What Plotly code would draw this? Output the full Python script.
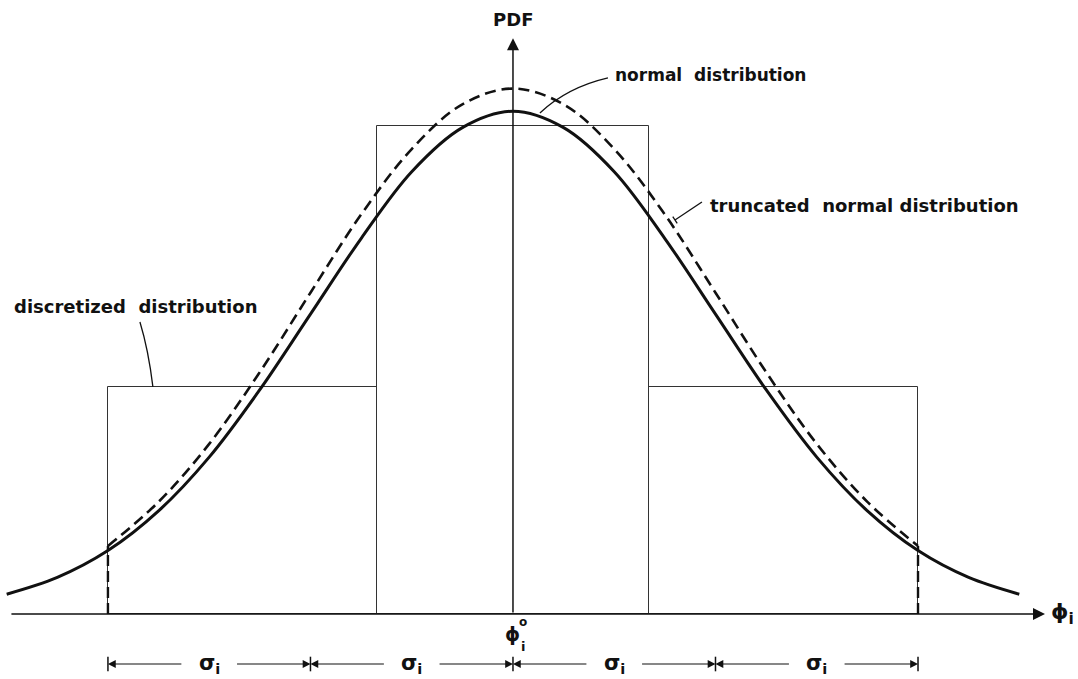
import plotly.graph_objects as go

# ---------------- data (x in units of sigma_i, y in PDF units) ----------------
normal_x = [-2.5, -2.25, -2.0, -1.75, -1.5, -1.25, -1.0, -0.75, -0.5, -0.25, 0.0,
            0.25, 0.5, 0.75, 1.0, 1.25, 1.5, 1.75, 2.0, 2.25, 2.5]
normal_y = [0.0157, 0.0290, 0.0503, 0.0818, 0.1245, 0.1780, 0.2380, 0.2980, 0.3510, 0.3860, 0.3990,
            0.3860, 0.3510, 0.2980, 0.2380, 0.1780, 0.1245, 0.0818, 0.0503, 0.0290, 0.0157]

trunc_x = [-2.0, -1.75, -1.5, -1.25, -1.0, -0.75, -0.5, -0.25, 0.0,
           0.25, 0.5, 0.75, 1.0, 1.25, 1.5, 1.75, 2.0]
trunc_y = [0.0540, 0.0890, 0.1350, 0.1920, 0.2550, 0.3170, 0.3690, 0.4045, 0.4170,
           0.4045, 0.3690, 0.3170, 0.2550, 0.1920, 0.1350, 0.0890, 0.0540]

disc_edges = [-2.0, -0.672, 0.672, 2.0]
disc_heights = [0.180, 0.387, 0.180]

sigma_ticks = [-2.0, -1.0, 0.0, 1.0, 2.0]
sigma_label = "σ<sub>i</sub>"

FONT = "DejaVu Sans"
BLACK = "#111111"

fig = go.Figure()

# discretized distribution (bars)
centers = [(disc_edges[i] + disc_edges[i + 1]) / 2 for i in range(len(disc_heights))]
widths = [disc_edges[i + 1] - disc_edges[i] for i in range(len(disc_heights))]
fig.add_trace(go.Bar(x=centers, y=disc_heights, width=widths,
                     marker=dict(color="rgba(0,0,0,0)", line=dict(color="#333333", width=1)),
                     hoverinfo="skip", showlegend=False))

# truncated normal (dashed)
fig.add_trace(go.Scatter(x=trunc_x, y=trunc_y, mode="lines", line_shape="spline",
                         line=dict(color=BLACK, width=2.6, dash="11px,6px"),
                         hoverinfo="skip", showlegend=False))
# dashed verticals at truncation points
for xe, ye in [(trunc_x[0], trunc_y[0]), (trunc_x[-1], trunc_y[-1])]:
    fig.add_trace(go.Scatter(x=[xe, xe], y=[0, ye], mode="lines",
                             line=dict(color=BLACK, width=2.4, dash="11px,5px"),
                             hoverinfo="skip", showlegend=False))

# normal distribution (solid)
fig.add_trace(go.Scatter(x=normal_x, y=normal_y, mode="lines", line_shape="spline",
                         line=dict(color=BLACK, width=3),
                         hoverinfo="skip", showlegend=False))

annotations = []
shapes = []

# axes with arrows
x_left, x_tip = -2.484, 2.627
y_tip = 0.457
annotations.append(dict(x=x_tip, y=0, ax=x_left, ay=0, xref="x", yref="y", axref="x", ayref="y",
                        text="", showarrow=True, arrowhead=2, arrowsize=1.6, arrowwidth=1.5,
                        arrowcolor=BLACK, standoff=0))
annotations.append(dict(x=0, y=y_tip, ax=0, ay=0, xref="x", yref="y", axref="x", ayref="y",
                        text="", showarrow=True, arrowhead=2, arrowsize=1.6, arrowwidth=1.5,
                        arrowcolor=BLACK, standoff=0))

# axis labels
annotations.append(dict(x=0, y=0.472, xref="x", yref="y", text="<b>PDF</b>", showarrow=False,
                        font=dict(family=FONT, size=18, color=BLACK)))
annotations.append(dict(x=2.645, y=0.0, xref="x", yref="y", text="<b>ϕ<sub>i</sub></b>",
                        showarrow=False, xanchor="left", yanchor="middle",
                        font=dict(family=FONT, size=22, color=BLACK)))
# phi_i^o under origin
annotations.append(dict(x=0.0, y=-0.016, xref="x", yref="y", text="<b>ϕ</b>", showarrow=False,
                        font=dict(family=FONT, size=19, color=BLACK)))
annotations.append(dict(x=0.05, y=-0.006, xref="x", yref="y", text="<b>o</b>", showarrow=False,
                        font=dict(family=FONT, size=12, color=BLACK)))
annotations.append(dict(x=0.05, y=-0.026, xref="x", yref="y", text="<b>i</b>", showarrow=False,
                        font=dict(family=FONT, size=13, color=BLACK)))

# curve labels with leader lines
annotations.append(dict(x=0.494, y=0.4278, xref="x", yref="y", xanchor="left", yanchor="middle",
                        text="<b>normal&nbsp; distribution</b>", showarrow=False,
                        font=dict(family=FONT, size=17, color=BLACK)))
shapes.append(dict(type="path", xref="x", yref="y",
                   path="M 0.133,0.3976 Q 0.27,0.418 0.469,0.4254",
                   line=dict(color=BLACK, width=1.3)))

annotations.append(dict(x=0.963, y=0.3246, xref="x", yref="y", xanchor="left", yanchor="middle",
                        text="<b>truncated&nbsp; normal distribution</b>", showarrow=False,
                        font=dict(family=FONT, size=18, color=BLACK)))
shapes.append(dict(type="line", xref="x", yref="y", x0=0.933, y0=0.327, x1=0.800, y1=0.3127,
                   line=dict(color=BLACK, width=1.3)))
shapes.append(dict(type="line", xref="x", yref="y", x0=0.789, y0=0.3153, x1=0.811, y1=0.3101,
                   line=dict(color=BLACK, width=1.3)))

annotations.append(dict(x=-2.474, y=0.2437, xref="x", yref="y", xanchor="left", yanchor="middle",
                        text="<b>discretized&nbsp; distribution</b>", showarrow=False,
                        font=dict(family=FONT, size=18, color=BLACK)))
shapes.append(dict(type="path", xref="x", yref="y",
                   path="M -1.842,0.2317 Q -1.80,0.2095 -1.778,0.1802",
                   line=dict(color=BLACK, width=1.3)))

# sigma dimension line
dim_y = -0.0397
gap = 0.13
for i in range(len(sigma_ticks) - 1):
    a, b = sigma_ticks[i], sigma_ticks[i + 1]
    c = (a + b) / 2
    annotations.append(dict(x=c, y=dim_y, xref="x", yref="y", text="<b>" + sigma_label + "</b>",
                            showarrow=False, yanchor="middle",
                            font=dict(family=FONT, size=21, color=BLACK)))
    for tail, head in [(c - gap, a), (c + gap, b)]:
        annotations.append(dict(x=head, y=dim_y, ax=tail, ay=dim_y, xref="x", yref="y",
                                axref="x", ayref="y", text="", showarrow=True, arrowhead=2,
                                arrowsize=1.3, arrowwidth=1.2, arrowcolor=BLACK, standoff=0))
for t in sigma_ticks:
    shapes.append(dict(type="line", xref="x", yref="y", x0=t, x1=t, y0=dim_y - 0.0058,
                       y1=dim_y + 0.0058, line=dict(color=BLACK, width=1.5)))

fig.update_layout(
    width=1078, height=679,
    margin=dict(l=0, r=0, t=0, b=0),
    paper_bgcolor="white", plot_bgcolor="white",
    xaxis=dict(range=[-2.533, 2.790], visible=False, fixedrange=True),
    yaxis=dict(range=[-0.0516, 0.4873], visible=False, fixedrange=True),
    annotations=annotations, shapes=shapes,
    bargap=0, showlegend=False,
)

fig.write_html("out.html", config={"displayModeBar": False},
               post_script="document.body.style.margin='0';document.body.style.overflow='hidden';")
